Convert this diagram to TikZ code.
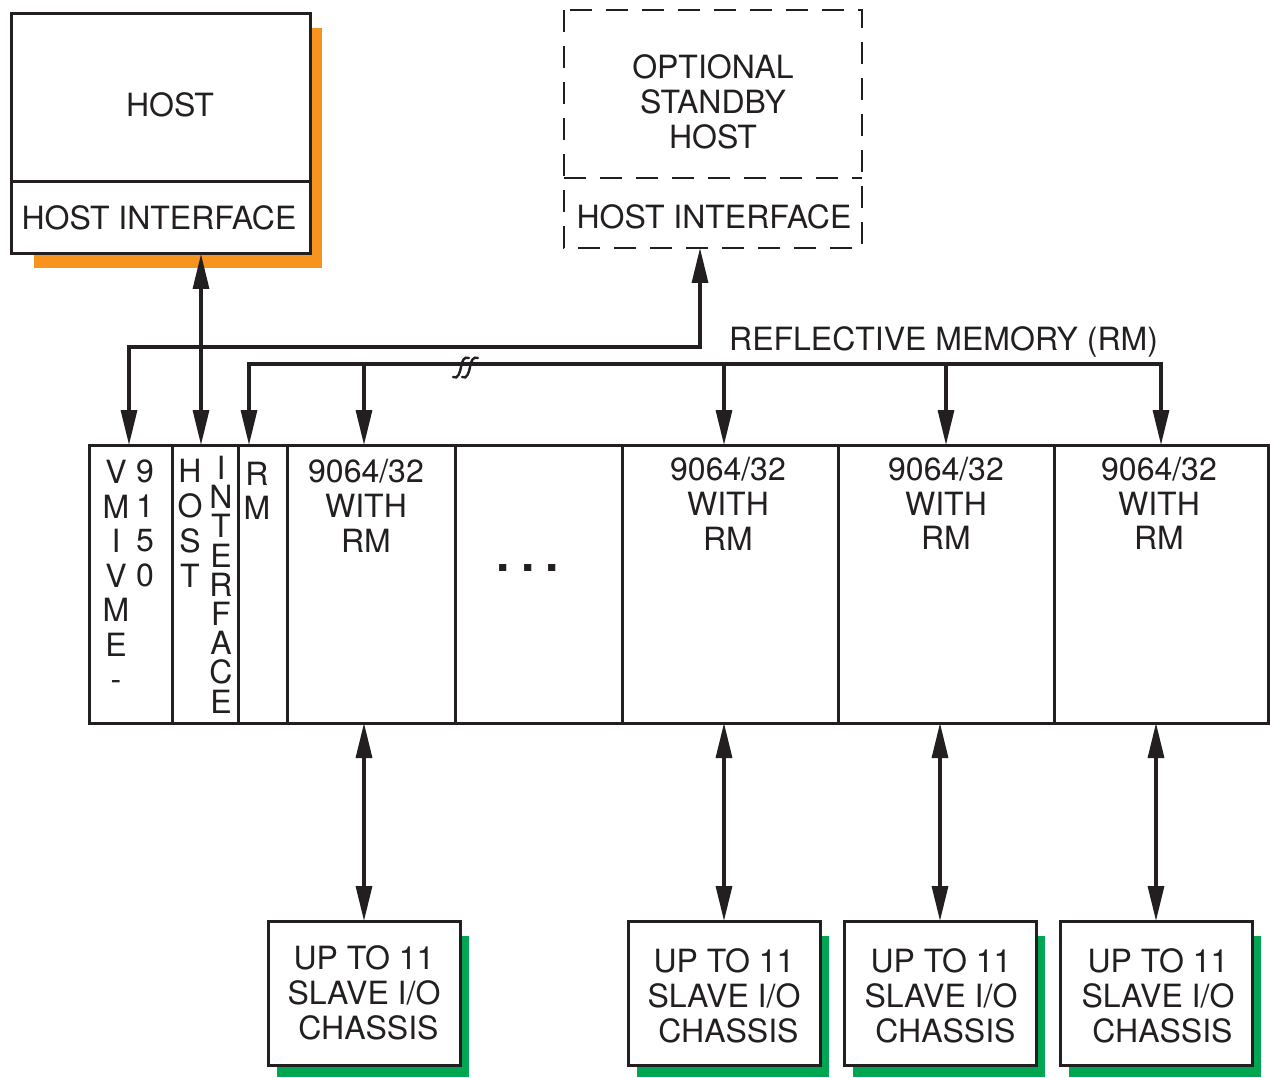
\documentclass[tikz,border=0pt]{standalone}
\usepackage{fontspec}
\setmainfont{TeX Gyre Heros}
\usetikzlibrary{arrows.meta}
\definecolor{shorange}{HTML}{F7941D}
\definecolor{shgreen}{HTML}{00A651}
\definecolor{ink}{HTML}{231F20}
\begin{document}
\begin{tikzpicture}[x=1pt,y=-1pt,
  bigtri/.tip={Triangle[length=35pt,width=16pt]},
  box/.style={draw=ink,line width=3pt,fill=white,inner sep=0pt,outer sep=0pt,anchor=north west},
  ghost/.style={inner sep=0pt,outer sep=0pt,anchor=north west},
  dline/.style={draw=ink,line width=2.8pt,dash pattern=on 22pt off 14pt},
  lbl/.style={font=\fontsize{32}{35}\selectfont,inner sep=0pt,align=center,text=ink},
  stack/.style={lbl,anchor=north,font=\fontsize{32}{#1}\selectfont},
  link/.style={draw=ink,line width=3.2pt},
  one/.style={link,-bigtri},
  two/.style={link,bigtri-bigtri}]
\useasboundingbox[fill=white] (0,0) rectangle (1270,1078);

% ---------- HOST ----------
\fill[shorange] (34,28) rectangle (322,268);
\node[box,minimum width=299pt,minimum height=168pt] (host) at (11,14) {};
\node[box,minimum width=299pt,minimum height=72pt] (hostif) at (11,182) {};
\node[lbl] (hosttxt) at (170,105) {HOST};
\node[lbl] (hostiftxt) at (159,218) {HOST INTERFACE};

% ---------- STANDBY HOST ----------
\node[ghost,minimum width=298pt,minimum height=168pt] (sb) at (564,10) {};
\node[ghost,minimum width=298pt,minimum height=70pt] (sbif) at (564,178) {};
\draw[dline] (sb.north west) rectangle (sbif.south east);
\draw[dline] (sb.south west) -- (sb.south east);
\node[lbl] (sbtxt) at (713,102) {OPTIONAL\\STANDBY\\HOST};
\node[lbl] (sbiftxt) at (714,217) {HOST INTERFACE};

% ---------- RACK ----------
\node[box,minimum width=83pt,minimum height=278pt] (c1) at (89,445) {};
\node[box,minimum width=66pt,minimum height=278pt] (c2) at (172,445) {};
\node[box,minimum width=49pt,minimum height=278pt] (c3) at (238,445) {};
\node[box,minimum width=168pt,minimum height=278pt] (c4) at (287,445) {};
\node[box,minimum width=167pt,minimum height=278pt] (c5) at (455,445) {};
\node[box,minimum width=216pt,minimum height=278pt] (c6) at (622,445) {};
\node[box,minimum width=216pt,minimum height=278pt] (c7) at (838,445) {};
\node[box,minimum width=214pt,minimum height=278pt] (c8) at (1054,445) {};

\node[stack=34.5] (t1a) at (116,460) {V\\M\\I\\V\\M\\E\\-};
\node[stack=34.5] (t1b) at (145,460) {9\\1\\5\\0};
\node[stack=35] (t2a) at (190,459) {H\\O\\S\\T};
\node[stack=29.2] (t2b) at (221,456) {I\\N\\T\\E\\R\\F\\A\\C\\E};
\node[stack=34] (t3) at (257,462) {R\\M};
\node[stack=35] (t4) at (366,459) {9064/32\\WITH\\RM};
\node[inner sep=0pt,font=\fontsize{48}{50}\selectfont\bfseries,text=ink] (dots) at (528,568) {.\hspace{11pt}.\hspace{11pt}.};
\node[stack=35] (t6) at (728,457) {9064/32\\WITH\\RM};
\node[stack=34.5] (t7) at (946,457) {9064/32\\WITH\\RM};
\node[stack=34.5] (t8) at (1159,457) {9064/32\\WITH\\RM};

% ---------- SLAVE CHASSIS ----------
\fill[shgreen] (277,936) rectangle (469,1077);
\fill[shgreen] (637,936) rectangle (829,1077);
\fill[shgreen] (853,936) rectangle (1045,1077);
\fill[shgreen] (1069,936) rectangle (1261,1077);
\node[box,minimum width=192pt,minimum height=144pt] (s1) at (268,921) {};
\node[box,minimum width=192pt,minimum height=144pt] (s2) at (628,921) {};
\node[box,minimum width=192pt,minimum height=144pt] (s3) at (844,921) {};
\node[box,minimum width=192pt,minimum height=144pt] (s4) at (1060,921) {};
\node[lbl] (s1t) at (364,993) {UP TO 11\\SLAVE I/O\\\ CHASSIS};
\node[lbl] (s2t) at (724,996) {UP TO 11\\SLAVE I/O\\\ CHASSIS};
\node[lbl] (s3t) at (941,996) {UP TO 11\\SLAVE I/O\\\ CHASSIS};
\node[lbl] (s4t) at (1158,996) {UP TO 11\\SLAVE I/O\\\ CHASSIS};

% ---------- CONNECTORS ----------
\coordinate (sx) at (700,0);
\coordinate (sy) at (0,347);
\coordinate (by) at (0,364);
\coordinate (hx) at (201,0);
\coordinate (c1in) at (129,445);
\coordinate (c3in) at (249,445);

% standby host link
\draw[two] (sbif.south -| sx) -- (sy -| sx) -- (sy -| c1in) -- (c1in);
% host link
\draw[two] (hostif.south -| hx) -- (c2.north -| hx);
% reflective memory bus
\draw[two] (c3in) |- (by -| c8.north) -- (c8.north);
\draw[one] (by -| s1.north) -- (c4.north -| s1.north);
\draw[one] (by -| s2.north) -- (c6.north -| s2.north);
\draw[one] (by -| c7.north) -- (c7.north);
\node[lbl,anchor=base west] (rmlbl) at (729,350) {REFLECTIVE MEMORY (RM)};
% break marks
\draw[draw=ink,line width=2.4pt,line cap=round] (453,377) .. controls (458,380) and (460,372) .. (461,367) .. controls (462,361) and (464,356) .. (469,358);
\draw[draw=ink,line width=2.4pt,line cap=round] (462,377) .. controls (467,380) and (469,372) .. (470,367) .. controls (471,361) and (473,356) .. (478,358);

% I/O links
\draw[two] (c4.south -| s1.north) -- (s1.north);
\draw[two] (c6.south -| s2.north) -- (s2.north);
\draw[two] (c7.south -| s3.north) -- (s3.north);
\draw[two] (c8.south -| s4.north) -- (s4.north);
\end{tikzpicture}
\end{document}
